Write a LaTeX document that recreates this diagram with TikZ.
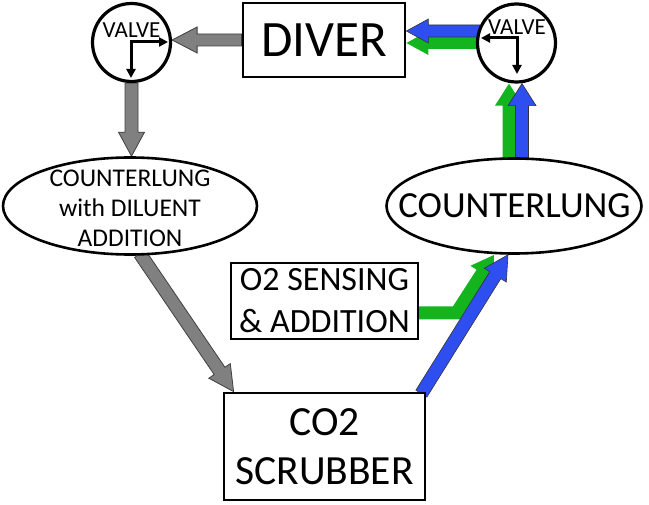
\documentclass[tikz,border=0pt]{standalone}
\usepackage{fontspec}
\setmainfont{Carlito}
\usetikzlibrary{calc,shapes.geometric,backgrounds,arrows.meta}
\definecolor{myblue}{HTML}{2F4EF0}
\definecolor{mygreen}{HTML}{14B41E}
\definecolor{mygray}{HTML}{808080}
\newcommand\blockarrow[6]{%
 \coordinate (bA) at (#2); \coordinate (bT) at (#3);
 \coordinate (bH) at ($(bT)!#6!(bA)$);
 \path[#1] ($(bA)!#4!90:(bT)$) -- ($(bH)!#4!-90:(bA)$) -- ($(bH)!#5!-90:(bA)$) -- (bT) -- ($(bH)!#5!90:(bA)$) -- ($(bH)!#4!90:(bA)$) -- ($(bA)!#4!-90:(bT)$) -- cycle;}
\begin{document}
\begin{tikzpicture}[x=1pt,y=-1pt,
  box/.style={draw, line width=2.8pt, fill=white, inner sep=0pt},
  valve/.style={circle, draw, line width=3.2pt, fill=white, minimum size=78pt, inner sep=0pt},
  lung/.style={ellipse, draw, line width=2.6pt, fill=white, inner sep=0pt},
  grayarr/.style={fill=mygray, draw=black!75, line width=0.8pt},
  bluearr/.style={fill=myblue, draw=black!80, line width=0.6pt},
  greenarr/.style={fill=mygreen},
  vtext/.style={font=\fontsize{23}{23}\selectfont, inner sep=0pt},
  thinarrow/.style={line width=3pt, line join=miter, {Triangle[length=9pt,width=9pt]}-{Triangle[length=9pt,width=9pt]}}
]
\useasboundingbox (0,0) rectangle (649,505);

\node[box, minimum width=162pt, minimum height=74pt, font=\fontsize{51}{56}\selectfont] (diver) at (324,40) {DIVER};
\node[valve] (valveL) at (131.5,42.5) {};
\node[valve] (valveR) at (516.5,43) {};
\node[vtext] (valveLt) at (131.5,30.5) {VALVE};
\node[vtext] (valveRt) at (517,27.5) {VALVE};
\node[lung, minimum width=254pt, minimum height=97pt] (lungL) at (130,206) {};
\node[align=center, font=\fontsize{25.5}{30}\selectfont, inner sep=0pt] (lungLt) at (130,208) {COUNTERLUNG\\with DILUENT\\ADDITION};
\node[lung, minimum width=255pt, minimum height=95pt] (lungR) at (514,206) {};
\node[font=\fontsize{36.8}{40}\selectfont, inner sep=0pt] (lungRt) at (514.5,206) {COUNTERLUNG};
\node[box, minimum width=187pt, minimum height=76pt, align=center, font=\fontsize{34}{42}\selectfont] (o2) at (324.5,301) {O2 SENSING\\\& ADDITION};
\node[box, minimum width=201pt, minimum height=107pt, align=center, font=\fontsize{41.5}{49}\selectfont] (scrub) at (324.5,446.5) {CO2\\SCRUBBER};

% inner valve arrows
\coordinate (vLc) at (131,42);
\draw[thinarrow] ($(vLc)+(37,0)$) -- (vLc) -- ($(vLc)+(0,36)$);
\coordinate (vRc) at (517,38);
\draw[thinarrow] ($(vRc)+(-36,0)$) -- (vRc) -- ($(vRc)+(0,36)$);

\begin{pgfonlayer}{background}
\blockarrow{grayarr}{diver.west}{valveL.east |- diver.west}{6pt}{13pt}{25pt}
\blockarrow{grayarr}{valveL.south}{valveL.south |- lungL.north}{6.5pt}{13pt}{24pt}
\blockarrow{grayarr}{$(lungL.south)+(10,-2)$}{$(scrub.north west)+(11,0)$}{6.5pt}{13pt}{25pt}
\blockarrow{greenarr}{$(valveR.west)+(4,0)$}{diver.east |- valveR.west}{6pt}{12pt}{22pt}
\blockarrow{bluearr}{$(valveR.west)+(4,-12)$}{$(diver.east |- valveR.west)+(0,-12)$}{6pt}{12pt}{22pt}
\blockarrow{greenarr}{$(lungR.north)+(-5,6)$}{$(valveR.south)+(-7.5,0)$}{6.5pt}{14pt}{22pt}
\blockarrow{bluearr}{$(lungR.north)+(8,6)$}{$(valveR.south)+(5.5,0)$}{6.5pt}{14pt}{22pt}
\draw[mygreen, line width=13pt, -{Triangle[length=22pt,width=26pt]}] ($(o2.east)+(-3,12)$) -- ++(40,0) -- ($(lungR.south)+(-20,0)$);
\blockarrow{bluearr}{$(scrub.north east)+(-5,2)$}{$(lungR.south)+(-6,0)$}{6.5pt}{13pt}{24pt}
\end{pgfonlayer}
\end{tikzpicture}
\end{document}
